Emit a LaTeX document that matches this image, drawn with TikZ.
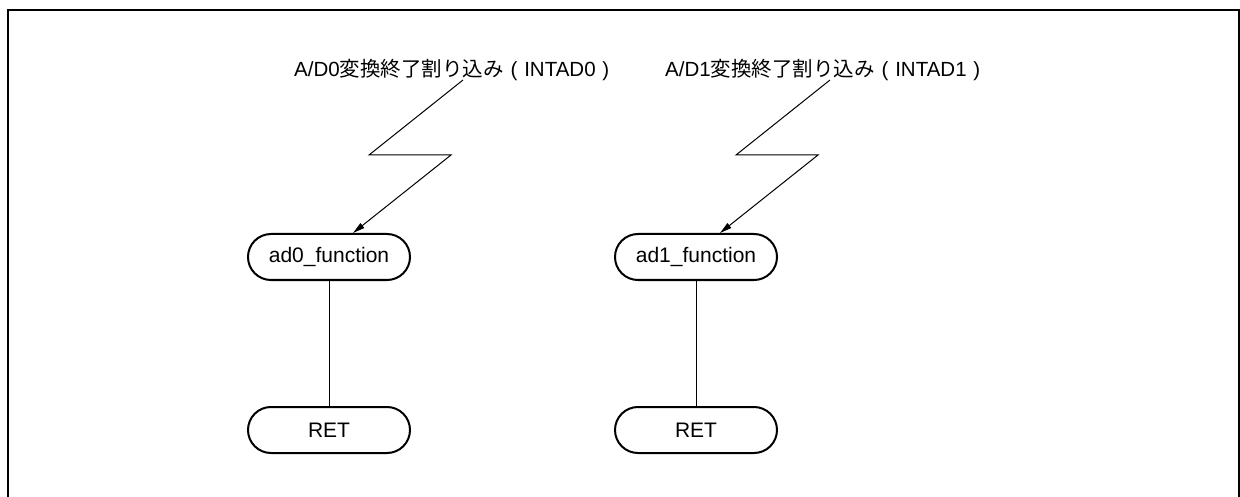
\documentclass[tikz,border=0pt]{standalone}
\usepackage{fontspec}
\setmainfont{Liberation Sans}
\newfontfamily\jpfont{Noto Sans CJK JP}
\usetikzlibrary{shapes.misc,arrows.meta}
\newcommand{\wparen}[1]{\makebox[1em][c]{#1}}
\tikzset{
  flowterm/.style={rounded rectangle, draw, line width=2pt, minimum width=162pt,
    minimum height=46pt, inner sep=0pt, font=\fontsize{21}{24}\selectfont},
  irqlabel/.style={inner sep=0pt, anchor=west, font=\fontsize{20.5}{24}\selectfont},
  wire/.style={line width=1pt},
  irq/.style={line width=1pt, -{Triangle[length=12pt,width=6pt]}}
}
\begin{document}
\begin{tikzpicture}[x=1pt,y=-1pt]
  \useasboundingbox (0,0) rectangle (1240,497);
  \clip (0,0) rectangle (1240,497);
  % outer frame
  \draw[line width=2pt] (7.5,510) -- (7.5,10) -- (1239,10) -- (1239,510);

  % INTAD0 handler
  \node[irqlabel] (lab0) at (294,70) {A/D0{\jpfont 変換終了割り込み}\wparen{(}INTAD0\wparen{)}};
  \node[flowterm] (ad0) at (329,257) {ad0\_function};
  \node[flowterm] (ret0) at (329,430) {RET};
  \coordinate (z0a) at (463,80);
  \coordinate (z0b) at (369,155);
  \coordinate (z0c) at (451,155);
  \coordinate (t0) at (353,233);
  \draw[irq] (z0a) -- (z0b) -- (z0c) -- (t0);
  \draw[wire] (ad0) -- (ret0);

  % INTAD1 handler
  \node[irqlabel] (lab1) at (665,70) {A/D1{\jpfont 変換終了割り込み}\wparen{(}INTAD1\wparen{)}};
  \node[flowterm] (ad1) at (696,257) {ad1\_function};
  \node[flowterm] (ret1) at (696,430) {RET};
  \coordinate (z1a) at (830,80);
  \coordinate (z1b) at (736,155);
  \coordinate (z1c) at (818,155);
  \coordinate (t1) at (720,233);
  \draw[irq] (z1a) -- (z1b) -- (z1c) -- (t1);
  \draw[wire] (ad1) -- (ret1);
\end{tikzpicture}
\end{document}
